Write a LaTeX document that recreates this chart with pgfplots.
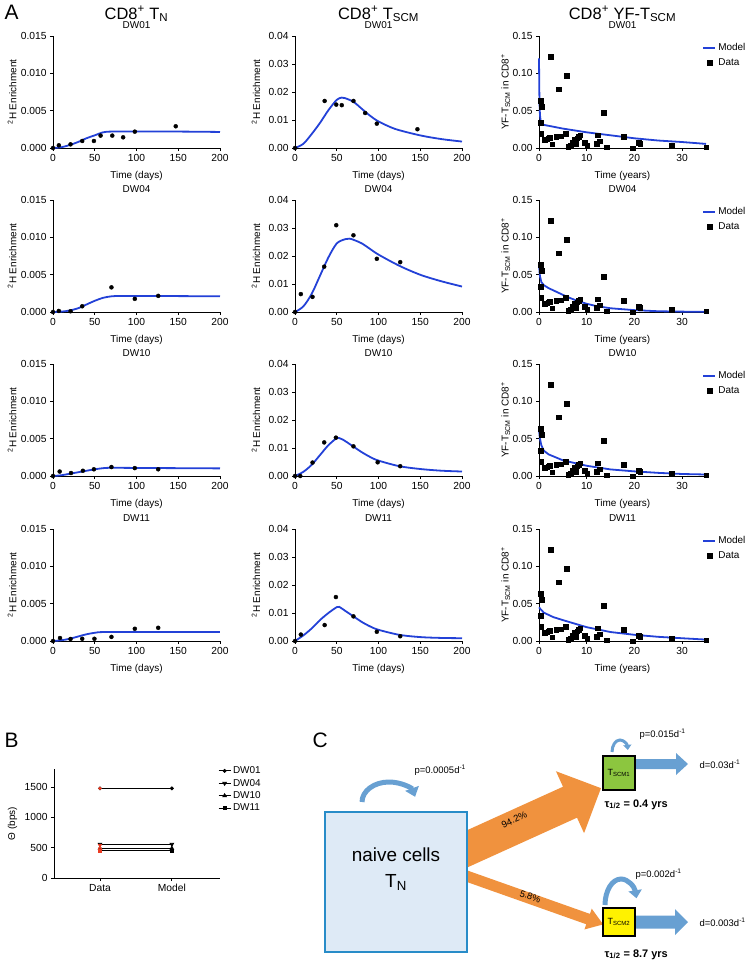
\documentclass[border=0pt]{standalone}
\usepackage{fontspec}
\setmainfont{Liberation Sans}
\usepackage{pgfplots}
\usepackage{pgfplotstable}
\pgfplotsset{compat=1.18}
\usetikzlibrary{arrows.meta}

\definecolor{modelblue}{RGB}{35,65,215}
\definecolor{dred}{RGB}{235,60,35}
\definecolor{orng}{RGB}{240,146,62}
\definecolor{lblue}{RGB}{104,160,210}
\definecolor{naivefill}{RGB}{222,234,246}
\definecolor{naivedraw}{RGB}{40,140,200}
\definecolor{scmgreen}{RGB}{140,198,63}

\newcommand{\fs}[1]{\fontsize{#1}{#1}\selectfont}

% block arrow: colour, x, y (px from top left), angle, length, shaft half width, head half width, head length
\newcommand{\blockarrow}[8]{%
  \fill[#1, shift={(#2bp,-#3bp)}, rotate=#4]
    (0,-#6bp) -- ({#5bp-#8bp},-#6bp) -- ({#5bp-#8bp},-#7bp) -- (#5bp,0)
    -- ({#5bp-#8bp},#7bp) -- ({#5bp-#8bp},#6bp) -- (0,#6bp) -- cycle;}

\pgfplotsset{
  prism/.style={
    scale only axis, width=167bp, height=112bp,
    axis x line*=bottom, axis y line*=left,
    axis line style={-, line width=1bp},
    tick align=outside, major tick length=3bp,
    tick style={black, line width=0.8bp},
    ticklabel style={font=\fs{10.3}},
    /pgf/number format/assume math mode=true,
    label style={font=\fs{10}},
    title style={font=\fs{10}, at={(0.5,1)}, anchor=base, yshift=1.5bp},
    every axis x label/.style={at={(axis description cs:0.5,0)}, anchor=base, yshift=-30bp},
    clip=false, enlargelimits=false, xmin=0, ymin=0,
    scaled y ticks=false,
    legend image code/.code={\draw[mark repeat=2,mark phase=2,##1] plot coordinates {(0bp,0bp) (6bp,0bp) (12bp,0bp)};},
  },
  colA/.style={prism, xmax=200, ymax=0.015, xtick={0,50,100,150,200},
    ytick={0,0.005,0.01,0.015},
    yticklabel style={/pgf/number format/.cd,fixed,fixed zerofill,precision=3},
    xlabel={Time (days)}, ylabel={\textsuperscript{2}H Enrichment},
    every axis y label/.style={at={(axis description cs:-0.245,0.5)}, rotate=90, anchor=center}},
  colB/.style={prism, xmax=200, ymax=0.04, xtick={0,50,100,150,200},
    ytick={0,0.01,0.02,0.03,0.04},
    yticklabel style={/pgf/number format/.cd,fixed,fixed zerofill,precision=2},
    xlabel={Time (days)}, ylabel={\textsuperscript{2}H Enrichment},
    every axis y label/.style={at={(axis description cs:-0.234,0.5)}, rotate=90, anchor=center}},
  colC/.style={prism, xmax=35, ymax=0.15, xtick={0,10,20,30},
    ytick={0,0.05,0.1,0.15},
    yticklabel style={/pgf/number format/.cd,fixed,fixed zerofill,precision=2},
    xlabel={Time (years)}, ylabel={YF-T\textsubscript{SCM} in CD8\textsuperscript{+}},
    every axis y label/.style={at={(axis description cs:-0.2,0.5)}, rotate=90, anchor=center},
    legend style={draw=none, fill=none, font=\fs{10}, at={(axis description cs:0.96,0.97)},
      anchor=north west, row sep=2bp, legend cell align=left}},
  model/.style={modelblue, line width=1.8bp},
  dots/.style={only marks, mark=*, mark size=2bp, black},
  sq/.style={only marks, mark=square*, mark size=2.3bp, black},
}

% YF-TSCM data (years, fraction of CD8+), same in all four donors
\pgfplotstableread{
x y
0.3 0.034
0.4 0.063
0.6 0.055
0.5 0.019
1.2 0.011
1.6 0.012
1.9 0.013
2.2 0.014
2.4 0.122
2.8 0.005
3.6 0.015
4.1 0.079
4.6 0.016
5.6 0.019
5.8 0.097
6.1 0.002
6.6 0.004
7.0 0.008
7.4 0.011
7.7 0.006
8.0 0.013
8.3 0.015
8.6 0.017
9.6 0.007
10.1 0.003
12.1 0.006
12.3 0.017
12.7 0.009
13.5 0.047
14.2 0.001
17.8 0.015
19.6 0.000
20.9 0.007
21.2 0.006
27.8 0.003
35.0 0.001
}\yfdata

\begin{document}
\begin{tikzpicture}
\useasboundingbox (0,0) rectangle (749bp,-962bp);

% headings
\node[font=\fs{21}, anchor=base west] at (1bp,-19bp) {A};
\node[font=\fs{16.5}, anchor=base] at (136.5bp,-19bp) {CD8\textsuperscript{+} T\textsubscript{N}};
\node[font=\fs{16.5}, anchor=base] at (378.5bp,-19bp) {CD8\textsuperscript{+} T\textsubscript{SCM}};
\node[font=\fs{16.5}, anchor=base] at (622.5bp,-19bp) {CD8\textsuperscript{+} YF-T\textsubscript{SCM}};

% ---------- row 1: DW01
\begin{axis}[colA, at={(53bp,-148bp)}, anchor=south west, title={DW01}]
\addplot[model, smooth] coordinates {(0,0) (10,0.0001) (20,0.0004) (30,0.0008) (40,0.0013) (50,0.0017) (60,0.0021) (70,0.0022) (100,0.0022) (150,0.0022) (200,0.00215)};
\addplot[dots] coordinates {(0,0) (7,0.00036) (21,0.00049) (35,0.00094) (49,0.00094) (57,0.00166) (71,0.00166) (84,0.00143) (98,0.00219) (147,0.00291)};
\end{axis}
\begin{axis}[colB, at={(295bp,-148bp)}, anchor=south west, title={DW01}]
\addplot[model, smooth] coordinates {(0,0) (10,0.0015) (20,0.005) (30,0.009) (40,0.0135) (50,0.0172) (56,0.018) (60,0.0178) (70,0.0165) (80,0.014) (90,0.0115) (100,0.0095) (120,0.0068) (150,0.0045) (175,0.0032) (200,0.0023)};
\addplot[dots] coordinates {(0,0) (35.5,0.0168) (49.4,0.0155) (56,0.0153) (70,0.0168) (84,0.0125) (98,0.0087) (146.6,0.0067)};
\end{axis}
\begin{axis}[colC, at={(539bp,-148bp)}, anchor=south west, title={DW01}]
\addplot[model] coordinates {(0,0.12) (0.05,0.085) (0.1,0.062) (0.2,0.044) (0.4,0.034) (1,0.031) (5,0.026) (10,0.021) (15,0.017) (20,0.013) (25,0.010) (30,0.008) (35,0.0055)};
\addlegendentry{Model}
\addplot[sq] table {\yfdata};
\addlegendentry{Data}
\end{axis}

% ---------- row 2: DW04
\begin{axis}[colA, at={(53bp,-312bp)}, anchor=south west, title={DW04}]
\addplot[model, smooth] coordinates {(0,0) (10,0.00005) (20,0.0002) (30,0.0005) (40,0.001) (50,0.0015) (60,0.0019) (70,0.0021) (80,0.00215) (100,0.00215) (150,0.00213) (200,0.0021)};
\addplot[dots] coordinates {(0,0) (7,0.00014) (21,0.0001) (35,0.00077) (70,0.0033) (98,0.00176) (126,0.00216)};
\end{axis}
\begin{axis}[colB, at={(295bp,-312bp)}, anchor=south west, title={DW04}]
\addplot[model, smooth] coordinates {(0,0) (10,0.002) (20,0.0065) (30,0.013) (40,0.0195) (50,0.0245) (60,0.026) (65,0.0262) (70,0.0258) (80,0.0245) (90,0.0225) (100,0.0205) (125,0.0165) (150,0.0133) (175,0.011) (200,0.0091)};
\addplot[dots] coordinates {(0,0) (7,0.0064) (21,0.0054) (35,0.0162) (49.4,0.031) (70,0.0274) (98,0.019) (126,0.0178)};
\end{axis}
\begin{axis}[colC, at={(539bp,-312bp)}, anchor=south west, title={DW04}]
\addplot[model] coordinates {(0,0.065) (0.1,0.055) (0.2,0.048) (0.5,0.04) (1,0.036) (2,0.032) (4,0.026) (6,0.02) (8,0.015) (10,0.011) (12,0.008) (15,0.005) (20,0.0025) (25,0.001) (30,0.0005) (35,0.0002)};
\addlegendentry{Model}
\addplot[sq] table {\yfdata};
\addlegendentry{Data}
\end{axis}

% ---------- row 3: DW10
\begin{axis}[colA, at={(53bp,-476bp)}, anchor=south west, title={DW10}]
\addplot[model, smooth] coordinates {(0,0) (10,0.0001) (20,0.0003) (30,0.0005) (40,0.0007) (50,0.0009) (60,0.00105) (70,0.0011) (100,0.00108) (150,0.00105) (200,0.00102)};
\addplot[dots] coordinates {(0,0) (8,0.0006) (21.6,0.0004) (35.8,0.0007) (49,0.0009) (70,0.0012) (98,0.00106) (126,0.0009)};
\end{axis}
\begin{axis}[colB, at={(295bp,-476bp)}, anchor=south west, title={DW10}]
\addplot[model, smooth] coordinates {(0,0) (10,0.0015) (20,0.004) (30,0.0075) (40,0.011) (50,0.0135) (55,0.0133) (60,0.0125) (70,0.0105) (80,0.0085) (90,0.0068) (100,0.0055) (125,0.0035) (150,0.0025) (175,0.0019) (200,0.0016)};
\addplot[dots] coordinates {(0,0) (6.3,0) (21,0.0048) (35,0.012) (49,0.0137) (70,0.0106) (99,0.0049) (126,0.0035)};
\end{axis}
\begin{axis}[colC, at={(539bp,-476bp)}, anchor=south west, title={DW10}]
\addplot[model] coordinates {(0,0.062) (0.2,0.05) (0.5,0.041) (1,0.034) (2,0.029) (5,0.021) (10,0.0137) (15,0.0088) (20,0.0062) (25,0.0042) (30,0.0027) (35,0.002)};
\addlegendentry{Model}
\addplot[sq] table {\yfdata};
\addlegendentry{Data}
\end{axis}

% ---------- row 4: DW11
\begin{axis}[colA, at={(53bp,-641bp)}, anchor=south west, title={DW11}]
\addplot[model, smooth] coordinates {(0,0) (10,0.0001) (20,0.0003) (30,0.0006) (40,0.0009) (50,0.0011) (60,0.0012) (100,0.0012) (200,0.0012)};
\addplot[dots] coordinates {(0,0) (8.4,0.0004) (21,0.00027) (35,0.0003) (49.6,0.0003) (70,0.00055) (98,0.00164) (126,0.00177)};
\end{axis}
\begin{axis}[colB, at={(295bp,-641bp)}, anchor=south west, title={DW11}]
\addplot[model, smooth] coordinates {(0,0) (10,0.002) (20,0.0045) (30,0.0075) (40,0.01) (50,0.0121) (53,0.0122) (60,0.0108) (70,0.0088) (80,0.0068) (90,0.0052) (100,0.004) (125,0.0022) (150,0.0014) (175,0.0011) (200,0.001)};
\addplot[dots] coordinates {(0,0) (7,0.0023) (35.5,0.0057) (49,0.0157) (70,0.0088) (98,0.0033) (126,0.0017)};
\end{axis}
\begin{axis}[colC, at={(539bp,-641bp)}, anchor=south west, title={DW11}]
\addplot[model] coordinates {(0,0.045) (1,0.038) (3,0.032) (5,0.028) (10,0.0185) (15,0.012) (20,0.0083) (25,0.0056) (30,0.0037) (35,0.0019)};
\addlegendentry{Model}
\addplot[sq] table {\yfdata};
\addlegendentry{Data}
\end{axis}

% ---------- panel B
\node[font=\fs{21}, anchor=base west] at (1bp,-747bp) {B};
\begin{axis}[prism, at={(54bp,-878bp)}, anchor=south west, width=166bp, height=109bp,
  xmin=-0.64, xmax=1.67, ymax=1800, xtick={0,1}, xticklabels={Data,Model},
  ytick={0,500,1000,1500},
  yticklabel style={/pgf/number format/.cd,fixed,1000 sep={}},
  ylabel={Θ (bps)},
  every axis y label/.style={at={(axis description cs:-0.25,0.5)}, rotate=90, anchor=center},
  legend style={draw=none, fill=none, font=\fs{10}, at={(axis description cs:0.97,1.06)},
    anchor=north west, row sep=0bp, legend cell align=left}]
\addplot[black, line width=0.8bp, mark=*, mark size=1.5bp] coordinates {(0,1480) (1,1480)};
\addlegendentry{DW01}
\addplot[black, line width=0.8bp, mark=triangle*, mark size=2bp, mark options={rotate=180}] coordinates {(0,556) (1,556)};
\addlegendentry{DW04}
\addplot[black, line width=0.8bp, mark=triangle*, mark size=2bp] coordinates {(0,491) (1,491)};
\addlegendentry{DW10}
\addplot[black, line width=0.8bp, mark=square*, mark size=1.7bp] coordinates {(0,452) (1,452)};
\addlegendentry{DW11}
\addplot[dred, only marks, mark=*, mark size=1.5bp, forget plot] coordinates {(0,1480)};
\addplot[dred, only marks, mark=triangle*, mark size=2bp, mark options={rotate=180}, forget plot] coordinates {(0,540)};
\addplot[dred, only marks, mark=triangle*, mark size=2bp, forget plot] coordinates {(0,500)};
\addplot[dred, only marks, mark=square*, mark size=1.7bp, forget plot] coordinates {(0,450)};
\end{axis}

% ---------- panel C (diagram)
\node[font=\fs{21}, anchor=base west] at (309bp,-747bp) {C};
\blockarrow{orng}{458}{853}{24.4}{157}{17}{34}{34}
\blockarrow{orng}{458}{873}{-19.5}{154}{5.5}{11}{16}
\blockarrow{lblue}{634}{764}{0}{54}{5}{11}{12}
\blockarrow{lblue}{634}{922}{0}{54}{6.5}{13}{13}
\draw[naivedraw, line width=2bp, fill=naivefill] (325bp,-812bp) rectangle (467bp,-952bp);
\node[font=\fs{19}, anchor=base] at (396bp,-861bp) {naive cells};
\node[font=\fs{19}, anchor=base] at (396bp,-887bp) {T\textsubscript{N}};
\draw[lblue, line width=5bp, -{Triangle[length=9bp, width=14bp]}]
  (362bp,-802bp) arc[start angle=180, end angle=15, x radius=27bp, y radius=20bp];
\node[font=\fs{9.5}, anchor=west] at (411bp,-770bp) {p=0.0005d\textsuperscript{-1}};
\node[font=\fs{9.5}, anchor=south, rotate=24.4] at (517bp,-826bp) {94.2\%};
\node[font=\fs{9.5}, anchor=south, rotate=-19.5] at (528bp,-903bp) {5.8\%};
% TSCM1
\draw[lblue, line width=3bp, -{Triangle[length=5bp, width=8bp]}]
  (612bp,-752bp) arc[start angle=180, end angle=10, x radius=8bp, y radius=12bp];
\draw[black, line width=1.5bp, fill=scmgreen] (603bp,-756bp) rectangle (635bp,-790bp);
\node[font=\fs{9}] at (619bp,-773bp) {T\textsubscript{SCM1}};
\node[font=\fs{9.5}, anchor=west] at (636bp,-734bp) {p=0.015d\textsuperscript{-1}};
\node[font=\fs{9.5}, anchor=west] at (696bp,-764bp) {d=0.03d\textsuperscript{-1}};
\node[font=\bfseries\fs{11}, anchor=base west] at (601bp,-807bp) {τ\textsubscript{1/2} = 0.4 yrs};
% TSCM2
\draw[lblue, line width=5bp, -{Triangle[length=8bp, width=13bp]}]
  (605bp,-905bp) arc[start angle=180, end angle=15, x radius=16bp, y radius=26bp];
\draw[black, line width=1.5bp, fill=yellow] (603bp,-908bp) rectangle (635bp,-936bp);
\node[font=\fs{9}] at (619bp,-922bp) {T\textsubscript{SCM2}};
\node[font=\fs{9.5}, anchor=west] at (632bp,-874bp) {p=0.002d\textsuperscript{-1}};
\node[font=\fs{9.5}, anchor=west] at (696bp,-922bp) {d=0.003d\textsuperscript{-1}};
\node[font=\bfseries\fs{11}, anchor=base west] at (601bp,-957bp) {τ\textsubscript{1/2} = 8.7 yrs};
\end{tikzpicture}
\end{document}
